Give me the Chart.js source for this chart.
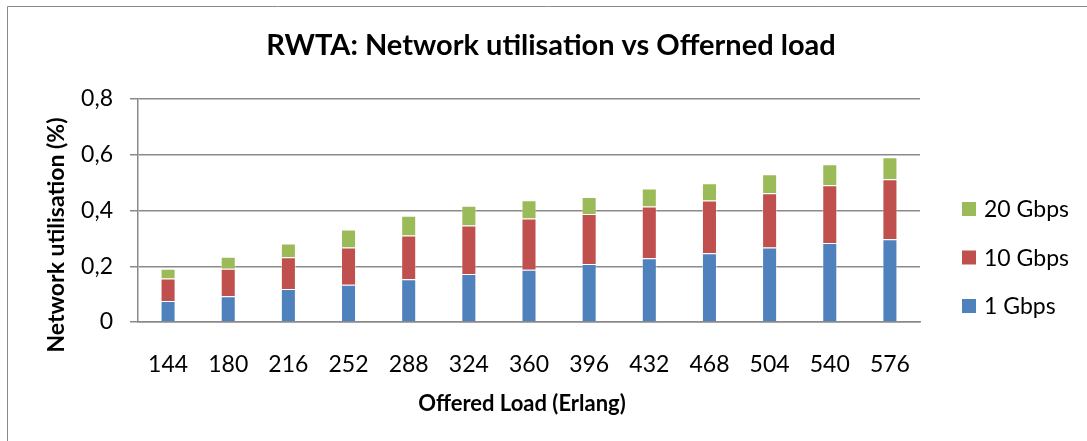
<!DOCTYPE html>
<html>
<head>
<meta charset="utf-8">
<script src="https://cdn.jsdelivr.net/npm/chart.js@4"></script>
<style>
  html, body { margin: 0; padding: 0; background: #fff; }
  #chart { display: block; }
</style>
</head>
<body>
<canvas id="chart" width="1087" height="441"></canvas>
<script>
// offered load (Erlang)
const loads = ["144", "180", "216", "252", "288", "324", "360", "396", "432", "468", "504", "540", "576"];

// utilisation share per line rate, stacked
const util1G = [0.075, 0.092, 0.118, 0.134, 0.153, 0.172, 0.187, 0.208, 0.229, 0.247, 0.267, 0.283, 0.297];
const util10G = [0.081, 0.099, 0.114, 0.133, 0.157, 0.174, 0.184, 0.179, 0.185, 0.189, 0.195, 0.208, 0.215];
const util20G = [0.035, 0.043, 0.050, 0.065, 0.071, 0.071, 0.066, 0.061, 0.065, 0.062, 0.068, 0.075, 0.079];

const yTickLabels = ["0", "0,2", "0,4", "0,6", "0,8"];

const chartTitle = "RWTA: Network utilisation vs Offerned load";
const xTitle = "Offered Load (Erlang)";
const yTitle = "Network utilisation (%)";

const gridGrey = "#8a8a8a";
const fontName = "Lato";

// title, axis titles, legend and the frame drawn the excel way
const excelDecor = {
    id: "excelDecor",
    beforeDraw(chart) {
        const ctx = chart.ctx;
        ctx.save();
        ctx.strokeStyle = gridGrey;
        ctx.lineWidth = 1;
        ctx.beginPath();
        ctx.moveTo(7.5, 441);
        ctx.lineTo(7.5, 6.5);
        ctx.lineTo(1087, 6.5);
        ctx.stroke();
        ctx.restore();
    },
    afterDraw(chart) {
        const ctx = chart.ctx;
        ctx.save();
        ctx.fillStyle = "#000";
        ctx.textAlign = "center";
        ctx.textBaseline = "middle";
        ctx.font = "bold 29px " + fontName;
        ctx.fillText(chartTitle, 551, 46);

        ctx.font = "bold 22px " + fontName;
        ctx.fillText(xTitle, 522, 404);

        ctx.save();
        ctx.translate(57, 235);
        ctx.rotate(-Math.PI / 2);
        ctx.font = "bold 23px " + fontName;
        ctx.fillText(yTitle, 0, 0);
        ctx.restore();

        // legend, top to bottom in reverse dataset order
        const sets = chart.data.datasets.slice().reverse();
        ctx.font = "23px " + fontName;
        ctx.textAlign = "left";
        sets.forEach((ds, i) => {
            const y = 209 + i * 48.5;
            ctx.fillStyle = ds.backgroundColor;
            ctx.fillRect(962, y - 7, 14, 14);
            ctx.fillStyle = "#000";
            ctx.fillText(ds.label, 984, y + 1);
        });
        ctx.restore();
    }
};

const utilData = {
    labels: loads,
    datasets: [
        { label: "1 Gbps", data: util1G, backgroundColor: "#4F81BD" },
        { label: "10 Gbps", data: util10G, backgroundColor: "#C0504D" },
        { label: "20 Gbps", data: util20G, backgroundColor: "#9BBB59" }
    ]
};
utilData.datasets.forEach(ds => {
    ds.borderColor = "rgba(255,255,255,0.45)";
    ds.borderWidth = 1;
    ds.barPercentage = 0.25;
    ds.categoryPercentage = 1;
});

const utilConfig = {
    type: "bar",
    data: utilData,
    options: {
        responsive: false,
        animation: false,
        layout: {
            padding: { left: 15, right: 167, top: 99, bottom: 0 }
        },
        plugins: {
            legend: { display: false },
            title: { display: false },
            tooltip: { enabled: false }
        },
        scales: {
            x: {
                stacked: true,
                grid: { display: false },
                border: { display: true, color: gridGrey, width: 1.5 },
                ticks: {
                    color: "#000",
                    padding: 21,
                    maxRotation: 0,
                    font: { family: fontName, size: 23 }
                },
                afterFit: (scale) => { scale.height = 119; }
            },
            y: {
                stacked: true,
                min: 0,
                max: 0.8,
                grid: {
                    color: gridGrey,
                    lineWidth: 1.5,
                    tickLength: 8
                },
                border: { display: true, color: gridGrey, width: 1.5 },
                ticks: {
                    stepSize: 0.2,
                    color: "#000",
                    padding: 17,
                    font: { family: fontName, size: 23 },
                    callback: (value, index) => yTickLabels[index]
                },
                afterFit: (scale) => { scale.width = 123; }
            }
        }
    },
    plugins: [excelDecor]
};

let utilChart = new Chart(document.getElementById("chart"), utilConfig);
</script>
</body>
</html>
